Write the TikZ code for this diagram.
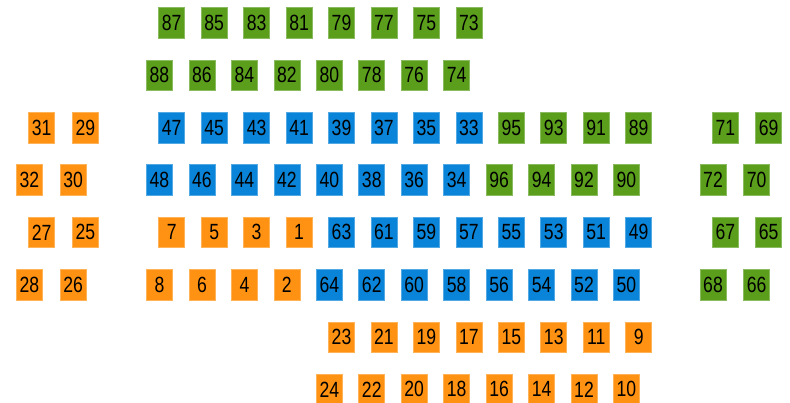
\documentclass[tikz,border=0pt]{standalone}
\usepackage{fontspec}
\newfontfamily\numfont{Liberation Sans}[FakeStretch=0.8]
\definecolor{cgreen}{HTML}{5A9E1C}
\definecolor{corange}{HTML}{FF9212}
\definecolor{cblue}{HTML}{0A84D8}
\tikzset{
  sbox/.style={rectangle, minimum width=26pt, minimum height=30.5pt, inner sep=0pt,
    font=\numfont\fontsize{22}{22}\selectfont, text=black, line width=0.6pt},
  gbox/.style={sbox, fill=cgreen, draw=cgreen!70!white},
  obox/.style={sbox, fill=corange, draw=corange!70!white},
  bbox/.style={sbox, fill=cblue, draw=cblue!70!white},
}
\newcommand{\oddx}{171.7}
\newcommand{\evenx}{159.5}
\newcommand{\stp}{42.45}
\begin{document}
\begin{tikzpicture}[x=1pt,y=-1pt]
\useasboundingbox (0,0) rectangle (790,403);
% row 1
\foreach \lab [count=\i from 0] in {87,85,83,81,79,77,75,73}
  \node[gbox] (n\lab) at ({\oddx+\stp*\i},23) {\lab};
% row 2
\foreach \lab [count=\i from 0] in {88,86,84,82,80,78,76,74}
  \node[gbox] (n\lab) at ({\evenx+\stp*\i},75.3) {\lab};
% row 3
\foreach \lab [count=\i from 0] in {47,45,43,41,39,37,35,33}
  \node[bbox] (n\lab) at ({\oddx+\stp*\i},127.6) {\lab};
\foreach \lab [count=\i from 8] in {95,93,91,89}
  \node[gbox] (n\lab) at ({\oddx+\stp*\i},127.6) {\lab};
% row 4
\foreach \lab [count=\i from 0] in {48,46,44,42,40,38,36,34}
  \node[bbox] (n\lab) at ({\evenx+\stp*\i},179.9) {\lab};
\foreach \lab [count=\i from 8] in {96,94,92,90}
  \node[gbox] (n\lab) at ({\evenx+\stp*\i},179.9) {\lab};
% row 5
\foreach \lab [count=\i from 0] in {7,5,3,1}
  \node[obox] (n\lab) at ({\oddx+\stp*\i},232.4) {\lab};
\foreach \lab [count=\i from 4] in {63,61,59,57,55,53,51,49}
  \node[bbox] (n\lab) at ({\oddx+\stp*\i},232.4) {\lab};
% row 6
\foreach \lab [count=\i from 0] in {8,6,4,2}
  \node[obox] (n\lab) at ({\evenx+\stp*\i},284.8) {\lab};
\foreach \lab [count=\i from 4] in {64,62,60,58,56,54,52,50}
  \node[bbox] (n\lab) at ({\evenx+\stp*\i},284.8) {\lab};
% row 7
\foreach \lab [count=\i from 4] in {23,21,19,17,15,13,11,9}
  \node[obox] (n\lab) at ({\oddx+\stp*\i},337.1) {\lab};
% row 8
\foreach \lab [count=\i from 4] in {24,22,20,18,16,14,12,10}
  \node[obox] (n\lab) at ({\evenx+\stp*\i},389.4) {\lab};
% left group
\node[obox] (n31) at (41.7,127.6) {31};
\node[obox] (n29) at (85.5,127.6) {29};
\node[obox] (n32) at (29.3,179.9) {32};
\node[obox] (n30) at (73.1,179.9) {30};
\node[obox] (n27) at (41.7,232.4) {27};
\node[obox] (n25) at (85.5,232.4) {25};
\node[obox] (n28) at (29.3,284.8) {28};
\node[obox] (n26) at (73.1,284.8) {26};
% right group
\node[gbox] (n71) at (725.3,127.6) {71};
\node[gbox] (n69) at (768.7,127.6) {69};
\node[gbox] (n72) at (713,179.9) {72};
\node[gbox] (n70) at (756.6,179.9) {70};
\node[gbox] (n67) at (725.3,232.4) {67};
\node[gbox] (n65) at (768.7,232.4) {65};
\node[gbox] (n68) at (713,284.8) {68};
\node[gbox] (n66) at (756.6,284.8) {66};
\end{tikzpicture}
\end{document}
